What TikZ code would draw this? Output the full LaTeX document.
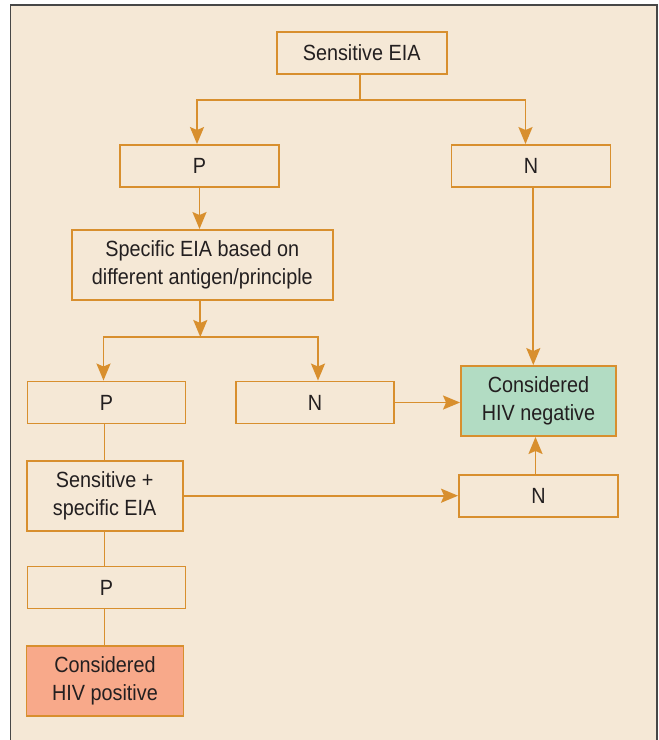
\documentclass[tikz,border=0pt]{standalone}
\usepackage{fontspec}
\setmainfont{Liberation Sans}[FakeStretch=0.9]
\usetikzlibrary{arrows.meta}
\definecolor{panel}{HTML}{F5E8D6}
\definecolor{flow}{HTML}{D88F2E}
\definecolor{negfill}{HTML}{B2DCC3}
\definecolor{posfill}{HTML}{F8A98A}
\definecolor{ink}{HTML}{231F20}
\definecolor{rim}{HTML}{474747}
\begin{document}
\begin{tikzpicture}[x=1pt,y=-1pt,>={Stealth[length=17pt,width=14pt,inset=3pt]},
    box/.style={draw=flow,line width=1.9pt,fill=panel,inner sep=0pt,align=center,
      text=ink,font=\fontsize{22}{28}\selectfont,minimum width=158pt,minimum height=42pt},
    tall/.style={box,minimum height=70pt},
    link/.style={flow,line width=1.9pt},
    arr/.style={link,->}]
  \useasboundingbox (0,0) rectangle (659,740);
  \fill[panel] (10.5,5) rectangle (657,740);
  \draw[rim,line width=1.8pt] (10.5,742) -- (10.5,5) -- (657,5) -- (657,742);

  \node[box,minimum width=170pt] (sens) at (361.7,53) {Sensitive EIA};
  \node[box,minimum width=159pt] (p1) at (199.5,166) {P};
  \node[box,minimum width=159pt] (n1) at (531,166) {N};
  \node[tall,minimum width=261pt] (spec) at (202.3,265) {Specific EIA based on\\different antigen/principle};
  \node[box] (p2) at (106.5,402.5) {P};
  \node[box] (n2) at (315,402.5) {N};
  \node[tall,fill=negfill,minimum width=155pt] (neg) at (538.5,401) {Considered\\HIV negative};
  \node[box,minimum width=159pt] (n3) at (538.5,496) {N};
  \node[tall,minimum width=156pt] (sspec) at (104.7,495.7) {Sensitive +\\specific EIA};
  \node[box] (p3) at (106.5,587.5) {P};
  \node[tall,fill=posfill,minimum width=157pt] (pos) at (105,681) {Considered\\HIV positive};

  \coordinate (fork1) at ([xshift=-1.5pt]sens.south |- 0,100);
  \draw[link] ([xshift=-1.5pt]sens.south) -- (fork1);
  \draw[arr] (fork1) -| ([xshift=-2.5pt]p1.north);
  \draw[arr] (fork1) -| ([xshift=-5.5pt]n1.north);
  \draw[arr] (p1.south) -- (p1.south |- spec.north);
  \coordinate (fork2) at ([xshift=-2pt]spec.south |- 0,337);
  \draw[arr] ([xshift=-2pt]spec.south) -- (fork2);
  \draw[arr] (fork2) -| ([xshift=-3pt]p2.north);
  \draw[arr] (fork2) -| ([xshift=3pt]n2.north);
  \draw[arr] ([xshift=2.3pt]n1.south) -- ([xshift=2.3pt]n1.south |- neg.north);
  \draw[arr] (n2.east) -- (n2.east -| neg.west);
  \draw[link] ([xshift=-2pt]p2.south) -- ([xshift=-2pt]p2.south |- sspec.north);
  \draw[arr] (sspec.east) -- (sspec.east -| n3.west);
  \draw[arr] ([xshift=-3pt]n3.north) -- ([xshift=-3pt]n3.north |- neg.south);
  \draw[link] ([xshift=-2pt]p3.north |- sspec.south) -- ([xshift=-2pt]p3.north);
  \draw[link] ([xshift=-2pt]p3.south) -- ([xshift=-2pt]p3.south |- pos.north);
\end{tikzpicture}
\end{document}
